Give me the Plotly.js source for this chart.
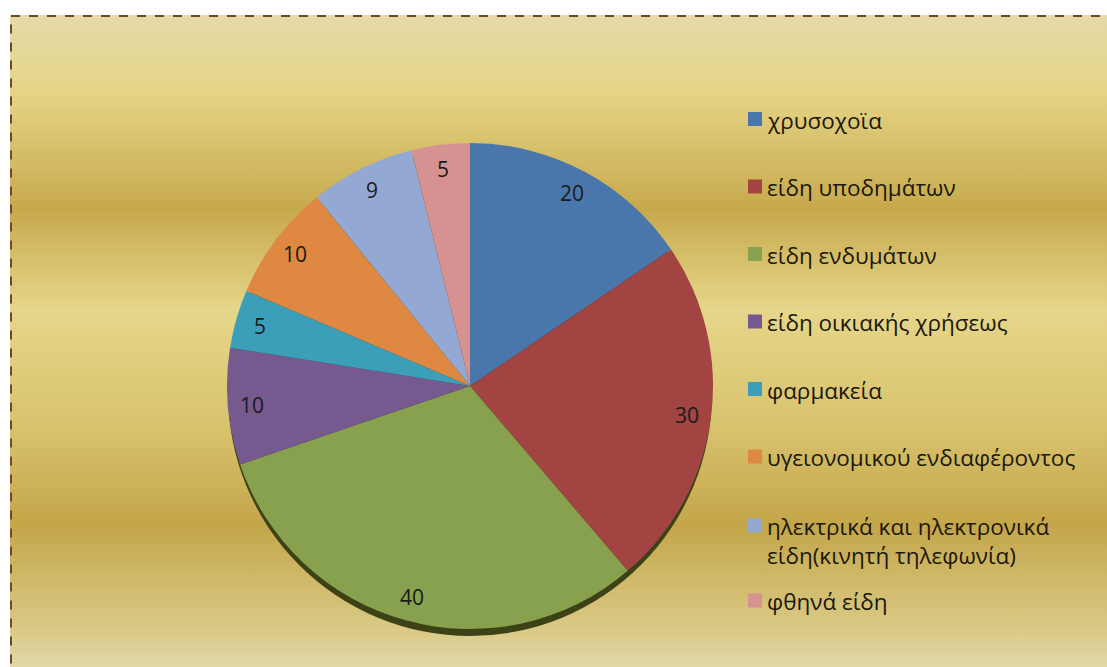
<!DOCTYPE html>
<html><head><meta charset="utf-8">
<script src="https://cdn.plot.ly/plotly-3.0.1.min.js"></script>
<style>
html,body{margin:0;padding:0;background:#fff;overflow:hidden;width:1107px;height:667px}
#bg{position:absolute;left:10px;top:15px;width:1120px;height:680px;
background:linear-gradient(to bottom,#E4DAA8 0px,#E6D587 75px,#C7A94D 195px,#E6D68A 295px,#D8C36E 410px,#C4A64A 510px,#DACA86 615px,#E2D8A8 652px)}
#chart{position:absolute;left:0;top:0;width:1107px;height:667px}
</style></head>
<body>
<div id="bg"></div>
<div id="chart"></div>
<script>
// ---- data ----
const categories = ["χρυσοχοϊα","είδη υποδημάτων","είδη ενδυμάτων","είδη οικιακής χρήσεως","φαρμακεία","υγειονομικού ενδιαφέροντος","ηλεκτρικά και ηλεκτρονικά είδη(κινητή τηλεφωνία)","φθηνά είδη"];
const legendLabels = ["χρυσοχοϊα","είδη υποδημάτων","είδη ενδυμάτων","είδη οικιακής χρήσεως","φαρμακεία","υγειονομικού ενδιαφέροντος","ηλεκτρικά και ηλεκτρονικά<br>είδη(κινητή τηλεφωνία)","φθηνά είδη"];
const values = [20, 30, 40, 10, 5, 10, 9, 5];
const colors = ["#4A77AB","#A24442","#87A14F","#76598F","#3C9FBA","#DE8841","#93A9D3","#D69291"];

// ---- layout constants ----
const W = 1107, H = 667;
const cx = 470, cy = 386, R = 243;
const font = '"Open Sans", "Noto Sans", sans-serif';

const pie = {
  type: 'pie', labels: categories, values: values, sort: false,
  direction: 'clockwise', rotation: 0,
  marker: {colors: colors, line: {width: 0}},
  textinfo: 'none', hoverinfo: 'label+value', showlegend: false,
  domain: {x: [(cx - R) / W, (cx + R) / W], y: [1 - (cy + R) / H, 1 - (cy - R) / H]}
};

const annotations = [];
const shapes = [];
// shadow rim under the pie
shapes.push({type: 'circle', xref: 'paper', yref: 'paper', layer: 'below',
  x0: (cx - R + 1) / W, x1: (cx + R - 1) / W, y0: 1 - (cy + R + 7) / H, y1: 1 - (cy - R + 7) / H,
  fillcolor: '#3c4116', line: {width: 0}});
// dashed frame
shapes.push({type: 'rect', xref: 'paper', yref: 'paper', layer: 'above',
  x0: 11 / W, x1: 1.05, y0: 1 - 16 / H, y1: -0.05,
  line: {color: '#73462a', width: 2, dash: '9px,9px'}, fillcolor: 'rgba(0,0,0,0)'});

// data labels near inside end
const total = values.reduce((a, b) => a + b, 0);
let cum = 0;
values.forEach((v, i) => {
  const mid = (cum + v / 2) / total * 2 * Math.PI;
  cum += v;
  const r = R * 0.9;
  const px = cx + r * Math.sin(mid), py = cy - r * Math.cos(mid);
  annotations.push({xref: 'paper', yref: 'paper', x: px / W, y: 1 - py / H,
    xanchor: 'center', yanchor: 'middle', showarrow: false, text: String(v),
    font: {family: font, size: 21, color: '#1a1a1a'}});
});

// legend
const legX = 748, sq = 14, lineH = 29;
let ly = 119;
legendLabels.forEach((lab, i) => {
  const n = lab.split('<br>').length;
  annotations.push({xref: 'paper', yref: 'paper', x: (legX + sq + 4) / W,
    y: 1 - (ly + 1 + (n - 1) * lineH / 2) / H,
    xanchor: 'left', yanchor: 'middle', align: 'left', showarrow: false, text: lab, borderpad: 0,
    font: {family: font, size: 22.5, color: '#1c180c'}});
  shapes.push({type: 'rect', xref: 'paper', yref: 'paper',
    x0: legX / W, x1: (legX + sq) / W, y0: 1 - (ly - sq / 2) / H, y1: 1 - (ly + sq / 2) / H,
    fillcolor: colors[i], line: {width: 0}});
  ly += n > 1 ? 75 : (i === 5 ? 69 : 67.5);
});

Plotly.newPlot('chart', [pie], {
  width: W, height: H, margin: {l: 0, r: 0, t: 0, b: 0},
  paper_bgcolor: 'rgba(0,0,0,0)', plot_bgcolor: 'rgba(0,0,0,0)',
  showlegend: false, annotations: annotations, shapes: shapes
}, {displayModeBar: false, staticPlot: true});
</script>
</body></html>
